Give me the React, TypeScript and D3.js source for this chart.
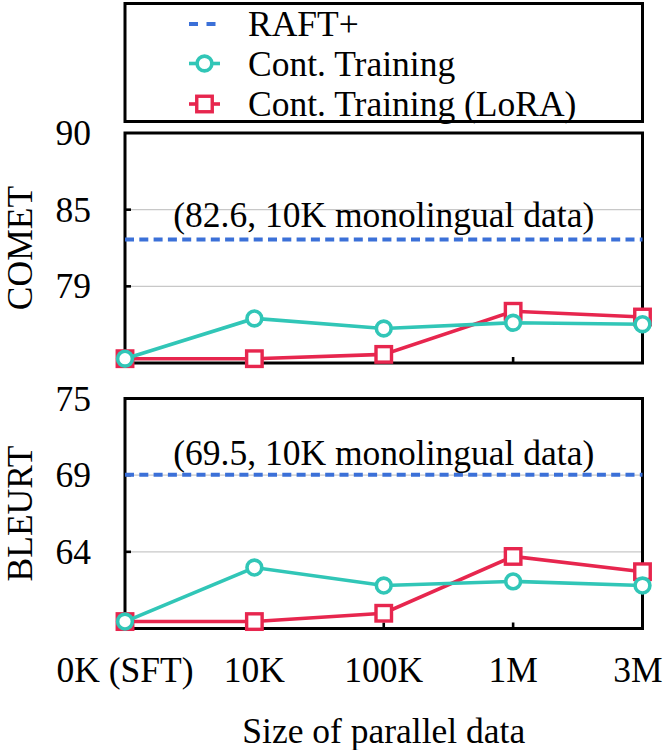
import React from 'react';
import * as d3 from 'd3';

const categories = ['0K (SFT)', '10K', '100K', '1M', '3M'];
const cometCont = [74.3, 77.1, 76.4, 76.8, 76.7];
const cometLora = [74.3, 74.3, 74.6, 77.6, 77.2];
const bleurtCont = [58.9, 62.8, 61.5, 61.8, 61.5];
const bleurtLora = [58.9, 58.9, 59.5, 63.6, 62.5];
const raftComet = 82.6;
const raftBleurt = 69.5;
const cometDomain: [number, number] = [74, 90];
const bleurtDomain: [number, number] = [58.4, 75];
const legendLabels = ['RAFT+', 'Cont. Training', 'Cont. Training (LoRA)'];
const cometLabel = 'COMET';
const bleurtLabel = 'BLEURT';
const cometNote = '(82.6, 10K monolingual data)';
const bleurtNote = '(69.5, 10K monolingual data)';
const xTitle = 'Size of parallel data';

const W = 665;
const H = 750;
const FONT = 'Liberation Serif';
const FS = 35.5;
const TEAL = '#31c6b7';
const RED = '#e7264e';
const BLUE = '#3b70d8';

const left = 125;
const right = 642.5;
const panelH = 230;

const x = d3.scalePoint<string>().domain(categories).range([left, right]).padding(0);

function T(props: any) {
  const { children, ...rest } = props;
  return (
    <text fontFamily={FONT} fontSize={FS} style={{ fontFamily: FONT, fontSize: FS + 'px' }} {...rest}>
      {children}
    </text>
  );
}

interface PanelProps {
  top: number;
  domain: [number, number];
  cont: number[];
  lora: number[];
  raft: number;
  label: string;
  note: string;
  noteOffset: number;
  labelX: number;
}

function Panel({ top, domain, cont, lora, raft, label, note, noteOffset, labelX }: PanelProps) {
  const y = d3.scaleLinear().domain(domain).range([top + panelH, top]);
  const step = (domain[1] - domain[0]) / 3;
  const ticks = d3.range(4).map((i) => domain[0] + i * step);
  const fmt = d3.format('.0f');
  const line = d3
    .line<number>()
    .x((_, i) => x(categories[i]) as number)
    .y((d) => y(d));
  const sq = 15.5;
  return (
    <g>
      {ticks.slice(1, 3).map((t, i) => (
        <line key={'g' + i} x1={left} x2={right} y1={y(t)} y2={y(t)} stroke="#c8c8c8" strokeWidth={1.2} />
      ))}
      <rect x={left} y={top} width={right - left} height={panelH} fill="none" stroke="#000" strokeWidth={3} />
      {ticks.slice(1, 3).map((t, i) => (
        <line key={'yt' + i} x1={left} x2={left + 6} y1={y(t)} y2={y(t)} stroke="#000" strokeWidth={2.6} />
      ))}
      {categories.map((c, i) => (
        <line key={'xt' + i} x1={x(c)} x2={x(c)} y1={top + panelH} y2={top + panelH - 6} stroke="#000" strokeWidth={2.6} />
      ))}
      {ticks.slice(1).map((t, i) => (
        <T key={'yl' + i} x={91} y={y(t) + 12} textAnchor="end">
          {fmt(t)}
        </T>
      ))}
      <T transform={`translate(${labelX},${top + panelH / 2}) rotate(-90)`} textAnchor="middle">
        {label}
      </T>
      <line x1={left} x2={right} y1={y(raft)} y2={y(raft)} stroke={BLUE} strokeWidth={4} strokeDasharray="9,5.3" />
      <T x={x(categories[2])} y={y(raft) - noteOffset} textAnchor="middle">
        {note}
      </T>
      <path d={line(lora) || ''} fill="none" stroke={RED} strokeWidth={3.6} />
      {lora.map((v, i) => (
        <rect
          key={'r' + i}
          x={(x(categories[i]) as number) - sq / 2}
          y={y(v) - sq / 2}
          width={sq}
          height={sq}
          fill="#fff"
          stroke={RED}
          strokeWidth={3.4}
        />
      ))}
      <path d={line(cont) || ''} fill="none" stroke={TEAL} strokeWidth={3.6} />
      {cont.map((v, i) => (
        <circle key={'c' + i} cx={x(categories[i])} cy={y(v)} r={7.4} fill="#fff" stroke={TEAL} strokeWidth={3.6} />
      ))}
    </g>
  );
}

function Legend() {
  const rows = [24, 63.5, 104];
  const hx1 = 189;
  const hx2 = 220;
  const mx = 204.5;
  return (
    <g>
      <rect x={left} y={3.5} width={right - left} height={118} fill="#fff" stroke="#000" strokeWidth={3} />
      <line x1={hx1} x2={hx2 - 4} y1={rows[0]} y2={rows[0]} stroke={BLUE} strokeWidth={4} strokeDasharray="9,8.5" />
      <line x1={hx1} x2={hx2} y1={rows[1]} y2={rows[1]} stroke={TEAL} strokeWidth={3.6} />
      <circle cx={mx} cy={rows[1]} r={7.4} fill="#fff" stroke={TEAL} strokeWidth={3.6} />
      <line x1={hx1} x2={hx2} y1={rows[2]} y2={rows[2]} stroke={RED} strokeWidth={3.6} />
      <rect x={mx - 7.75} y={rows[2] - 7.75} width={15.5} height={15.5} fill="#fff" stroke={RED} strokeWidth={3.4} />
      {legendLabels.map((l, i) => (
        <T key={l} x={248} y={rows[i] + 12}>
          {l}
        </T>
      ))}
    </g>
  );
}

export default function App() {
  const bottomTop = 398.5;
  return (
    <div style={{ position: 'absolute', left: 0, top: 0 }}>
      <svg width={W} height={H} fontFamily={FONT} style={{ display: 'block', background: '#fff', fontFamily: FONT }}>
        <Legend />
        <Panel
          top={133}
          domain={cometDomain}
          cont={cometCont}
          lora={cometLora}
          raft={raftComet}
          label={cometLabel}
          note={cometNote}
          noteOffset={12}
          labelX={32}
        />
        <Panel
          top={bottomTop}
          domain={bleurtDomain}
          cont={bleurtCont}
          lora={bleurtLora}
          raft={raftBleurt}
          label={bleurtLabel}
          note={bleurtNote}
          noteOffset={9.5}
          labelX={32}
        />
        {categories.map((c) => (
          <T key={c} x={Math.min(x(c) as number, W - 27)} y={682} textAnchor="middle">
            {c}
          </T>
        ))}
        <T x={(left + right) / 2} y={743} textAnchor="middle">
          {xTitle}
        </T>
      </svg>
    </div>
  );
}
